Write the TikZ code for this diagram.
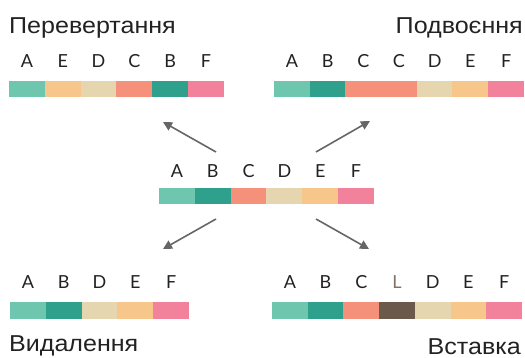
\documentclass[tikz,border=0pt]{standalone}
\usepackage{fontspec}
\setmainfont{Lato}
\newfontfamily\ttlfont[FakeStretch=1.09]{Liberation Sans}
\usetikzlibrary{arrows.meta}
\definecolor{cA}{HTML}{6EC6AE}
\definecolor{cB}{HTML}{2EA08C}
\definecolor{cC}{HTML}{F5907A}
\definecolor{cD}{HTML}{E5D6B0}
\definecolor{cE}{HTML}{F6C68A}
\definecolor{cF}{HTML}{F2819B}
\definecolor{cL}{HTML}{6B5A4C}
\definecolor{txt}{HTML}{222222}
\definecolor{arr}{HTML}{666666}
\tikzset{
  cell/.style={fill=#1, draw=none},
  lett/.style={anchor=base, font=\fontsize{18}{18}\selectfont, text=txt, inner sep=0pt},
  ttl/.style={anchor=base, font=\ttlfont\fontsize{23}{23}\selectfont, text=txt, inner sep=0pt},
  arrw/.style={draw=arr, line width=1.6pt, -{Triangle[length=9pt,width=9pt]}}
}
\begin{document}
\begin{tikzpicture}[x=1pt,y=-1pt]
\useasboundingbox (0,0) rectangle (525,358);
% ---------- top left: Перевертання
\node[ttl, anchor=base west] (t1) at (9,34) {Перевертання};
\foreach \i/\c/\l in {0/cA/A,1/cE/E,2/cD/D,3/cC/C,4/cB/B,5/cF/F}{
  \fill[cell=\c] ({9+\i*35.83},81) rectangle ({9+(\i+1)*35.83},97);
  \node[lett] (tl\i) at ({9+(\i+0.5)*35.83},68) {\l};
}
% ---------- top right: Подвоєння
\node[ttl, anchor=base east] (t2) at (523,34) {Подвоєння};
\fill[cell=cA] (274,81) rectangle (310,97);
\fill[cell=cB] (310,81) rectangle (345,97);
\fill[cell=cC] (345,81) rectangle (417,97);
\fill[cell=cD] (417,81) rectangle (452,97);
\fill[cell=cE] (452,81) rectangle (488,97);
\fill[cell=cF] (488,81) rectangle (524,97);
\foreach \i/\l in {0/A,1/B,2/C,3/C,4/D,5/E,6/F}{
  \node[lett] (tr\i) at ({274+(\i+0.5)*35.71},68) {\l};
}
% ---------- center
\foreach \i/\c/\l in {0/cA/A,1/cB/B,2/cC/C,3/cD/D,4/cE/E,5/cF/F}{
  \fill[cell=\c] ({159+\i*35.83},188) rectangle ({159+(\i+1)*35.83},204);
  \node[lett] (c\i) at ({159+(\i+0.5)*35.83},178) {\l};
}
% ---------- bottom left: Видалення
\foreach \i/\c/\l in {0/cA/A,1/cB/B,2/cD/D,3/cE/E,4/cF/F}{
  \fill[cell=\c] ({10+\i*35.8},302) rectangle ({10+(\i+1)*35.8},319);
  \node[lett] (bl\i) at ({10+(\i+0.5)*35.8},289) {\l};
}
\node[ttl, anchor=base west] (t3) at (9,351) {Видалення};
% ---------- bottom right: Вставка
\foreach \i/\c/\l in {0/cA/A,1/cB/B,2/cC/C,3/cL/L,4/cD/D,5/cE/E,6/cF/F}{
  \fill[cell=\c] ({272+\i*35.71},302) rectangle ({272+(\i+1)*35.71},319);
}
\foreach \i/\l in {0/A,1/B,2/C,4/D,5/E,6/F}{
  \node[lett] (br\i) at ({272+(\i+0.5)*35.71},289) {\l};
}
\node[lett, text=cL!85!white] (br3) at ({272+3.5*35.71},289) {L};
\node[ttl, anchor=base east] (t4) at (521,354) {Вставка};
% ---------- arrows
\coordinate (a1s) at (216,152); \coordinate (a1e) at (163,122);
\coordinate (a2s) at (316,152); \coordinate (a2e) at (370,121);
\coordinate (a3s) at (216,219); \coordinate (a3e) at (163,249);
\coordinate (a4s) at (316,219); \coordinate (a4e) at (369,249);
\draw[arrw] (a1s) -- (a1e);
\draw[arrw] (a2s) -- (a2e);
\draw[arrw] (a3s) -- (a3e);
\draw[arrw] (a4s) -- (a4e);
\end{tikzpicture}
\end{document}
